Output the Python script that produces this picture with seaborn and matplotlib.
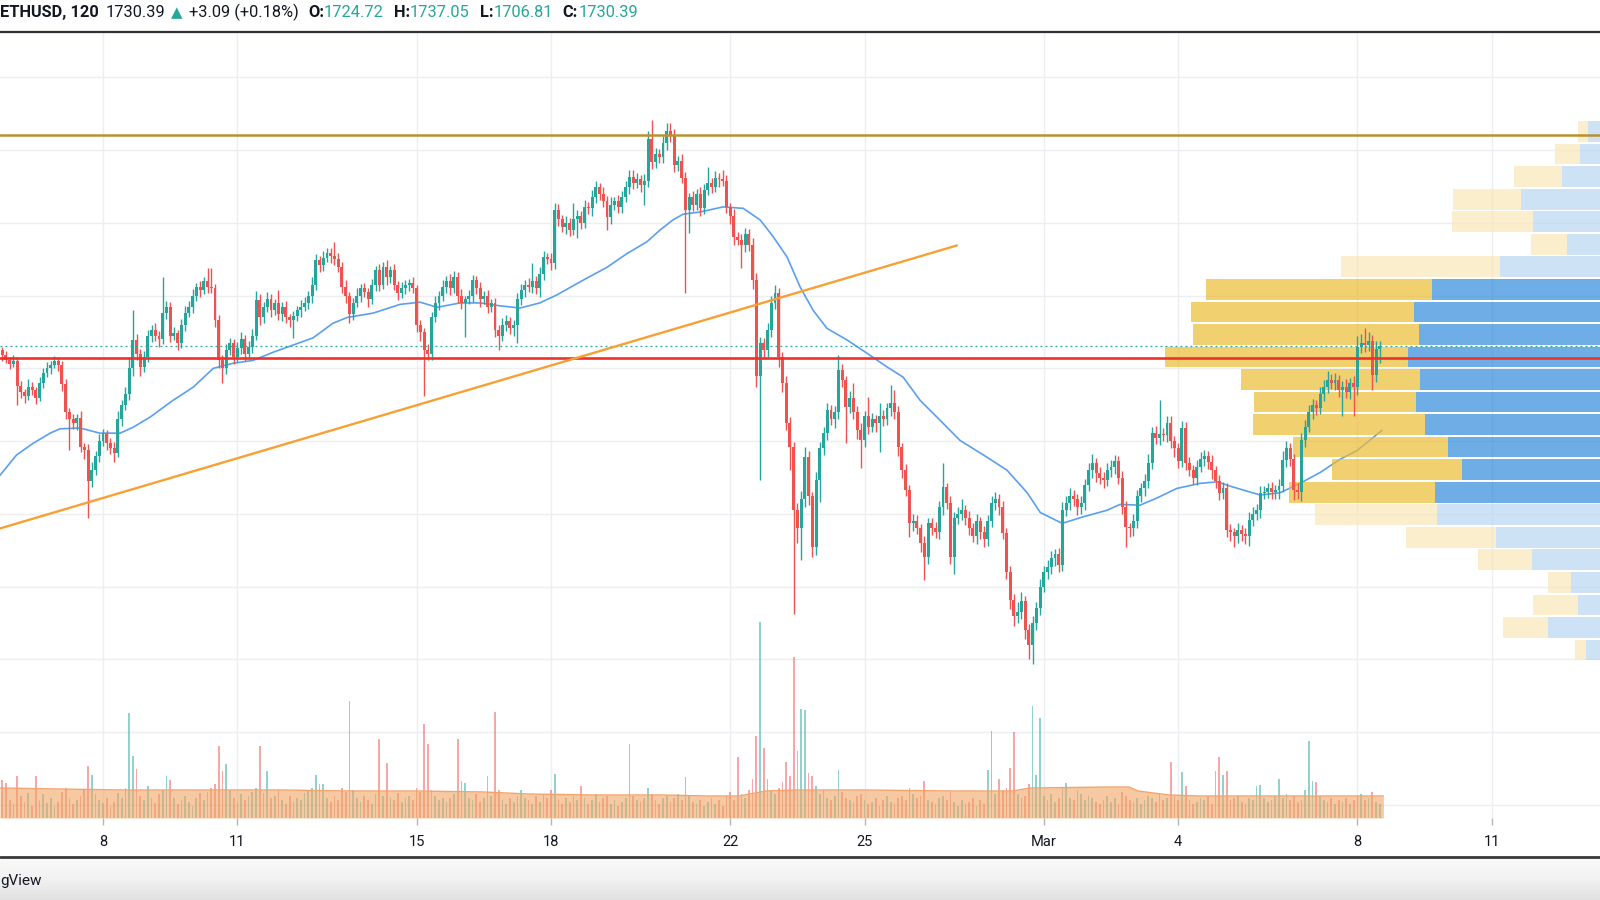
import numpy as np
import pandas as pd
import matplotlib
matplotlib.use("Agg")
import matplotlib.pyplot as plt
import seaborn as sns
from matplotlib.lines import Line2D

# ---------------- header data ----------------
symbol_txt = "ETHUSD, 120"
last_txt = "1730.39"
change_txt = "+3.09 (+0.18%)"
ohlc_labels = ["O:", "H:", "L:", "C:"]
ohlc_values = ["1724.72", "1737.05", "1706.81", "1730.39"]
footer_txt = "gView"

# ---------------- candle data (2h bars, day numbers: Feb d = d, Mar d = 28 + d) ----------------
start_day = 5.6667          # Feb 5, 16:00
bars_per_day = 12
first_open = 1730

close = [
    1725, 1718, 1712, 1706, 1710, 1676, 1668, 1662, 1675, 1670,
    1660, 1680, 1694, 1700, 1705, 1710, 1704, 1678, 1640, 1630,
    1625, 1632, 1592, 1588, 1545, 1560, 1580, 1600, 1610, 1598,
    1590, 1584, 1630, 1650, 1665, 1700, 1739, 1720, 1702, 1715,
    1745, 1753, 1745, 1740, 1776, 1785, 1745, 1748, 1735, 1760,
    1776, 1785, 1800, 1812, 1808, 1820, 1812, 1810, 1766, 1712,
    1700, 1725, 1735, 1715, 1728, 1740, 1720, 1730, 1745, 1794,
    1770, 1785, 1795, 1780, 1790, 1775, 1785, 1770, 1766, 1772,
    1780, 1785, 1790, 1800, 1815, 1849, 1842, 1852, 1858, 1855,
    1850, 1840, 1812, 1800, 1775, 1790, 1800, 1810, 1805, 1795,
    1815, 1835, 1815, 1839, 1825, 1835, 1815, 1803, 1810, 1815,
    1817, 1810, 1760, 1750, 1725, 1720, 1770, 1790, 1800, 1812,
    1820, 1810, 1826, 1800, 1790, 1795, 1800, 1821, 1810, 1795,
    1800, 1785, 1790, 1753, 1745, 1760, 1765, 1755, 1760, 1795,
    1808, 1815, 1812, 1820, 1810, 1830, 1853, 1850, 1845, 1918,
    1905, 1895, 1900, 1890, 1905, 1910, 1900, 1922, 1920, 1935,
    1949, 1940, 1930, 1908, 1925, 1930, 1922, 1935, 1950, 1963,
    1955, 1960, 1952, 1958, 2016, 1984, 1995, 1990, 2010, 2027,
    2020, 1980, 1985, 1962, 1918, 1935, 1925, 1940, 1920, 1945,
    1955, 1950, 1962, 1960, 1958, 1922, 1910, 1880, 1877, 1870,
    1885, 1870, 1821, 1690, 1735, 1725, 1753, 1790, 1803, 1716,
    1680, 1625, 1592, 1505, 1480, 1520, 1578, 1524, 1455, 1547,
    1590, 1611, 1643, 1630, 1640, 1698, 1684, 1647, 1660, 1640,
    1615, 1601, 1635, 1620, 1630, 1625, 1635, 1630, 1645, 1652,
    1640, 1592, 1560, 1533, 1487, 1490, 1480, 1460, 1441, 1487,
    1480, 1475, 1510, 1537, 1515, 1441, 1495, 1500, 1505, 1495,
    1480, 1470, 1490, 1475, 1465, 1490, 1515, 1521, 1510, 1474,
    1420, 1381, 1360, 1365, 1380, 1340, 1320, 1350, 1370, 1400,
    1420, 1427, 1440, 1445, 1430, 1505, 1515, 1525, 1520, 1510,
    1515, 1540, 1560, 1570, 1556, 1550, 1546, 1560, 1565, 1573,
    1550, 1510, 1482, 1480, 1490, 1524, 1535, 1545, 1570, 1611,
    1605, 1610, 1608, 1625, 1600, 1590, 1573, 1618, 1570, 1560,
    1550, 1565, 1575, 1580, 1572, 1560, 1545, 1529, 1535, 1478,
    1475, 1470, 1478, 1472, 1470, 1492, 1500, 1505, 1529, 1530,
    1535, 1530, 1533, 1538, 1574, 1590, 1575, 1533, 1530, 1601,
    1620, 1640, 1650, 1645, 1665, 1675, 1684, 1680, 1684, 1670,
    1675, 1668, 1680, 1675, 1730, 1735, 1732, 1738, 1691, 1727, 1730.39,
]

upper_wick = [
    8, 5, 6, 4, 9, 5, 7, 4, 10, 6,
    5, 8, 6, 9, 5, 7, 4, 6, 8, 5,
    7, 5, 9, 6, 8, 12, 6, 10, 7, 5,
    6, 9, 12, 7, 10, 15, 41, 8, 6, 9,
    8, 6, 10, 7, 49, 8, 6, 9, 5, 8,
    10, 7, 9, 6, 8, 5, 18, 26, 6, 8,
    6, 9, 7, 5, 8, 10, 6, 7, 9, 12,
    8, 6, 10, 7, 5, 18, 6, 8, 5, 7,
    6, 9, 8, 7, 10, 8, 6, 9, 7, 8,
    19, 8, 6, 9, 5, 7, 10, 6, 8, 5,
    8, 6, 9, 7, 10, 6, 8, 5, 9, 7,
    6, 8, 5, 7, 6, 9, 8, 10, 6, 9,
    7, 10, 8, 6, 9, 5, 8, 7, 6, 9,
    6, 8, 5, 7, 6, 9, 8, 6, 7, 9,
    8, 6, 9, 25, 7, 10, 8, 6, 9, 10,
    8, 6, 9, 7, 23, 8, 6, 9, 7, 10,
    8, 6, 9, 7, 10, 6, 8, 9, 7, 10,
    10, 8, 6, 9, 10, 25, 8, 6, 10, 11,
    11, 9, 7, 10, 8, 6, 9, 7, 10, 8,
    22, 7, 9, 6, 13, 8, 6, 9, 7, 8,
    8, 6, 9, 10, 8, 7, 10, 9, 12, 8,
    6, 9, 8, 7, 10, 12, 14, 8, 6, 10,
    9, 8, 10, 7, 9, 20, 8, 6, 9, 20,
    8, 10, 7, 26, 9, 6, 17, 8, 7, 25,
    18, 8, 6, 9, 7, 10, 8, 6, 9, 8,
    7, 9, 8, 33, 6, 10, 8, 9, 16, 7,
    9, 8, 10, 6, 9, 8, 10, 9, 7, 8,
    6, 8, 9, 14, 12, 7, 8, 10, 9, 11,
    8, 10, 9, 7, 8, 12, 9, 10, 8, 7,
    9, 8, 10, 12, 7, 9, 8, 10, 9, 8,
    7, 9, 8, 6, 10, 9, 8, 10, 12, 9,
    10, 47, 8, 10, 9, 7, 8, 10, 9, 8,
    7, 9, 10, 8, 7, 9, 6, 8, 9, 7,
    8, 6, 9, 7, 8, 10, 9, 8, 10, 9,
    8, 9, 7, 10, 12, 10, 8, 7, 9, 10,
    9, 10, 8, 7, 10, 9, 12, 8, 10, 7,
    8, 10, 7, 9, 14, 12, 20, 12, 8, 10, 7,
]

lower_wick = [
    6, 8, 5, 7, 4, 26, 8, 10, 6, 7,
    9, 5, 7, 6, 8, 5, 7, 9, 10, 42,
    8, 10, 7, 12, 51, 8, 6, 9, 7, 10,
    8, 12, 6, 9, 7, 8, 10, 9, 12, 7,
    6, 9, 8, 10, 7, 8, 9, 6, 10, 7,
    8, 6, 9, 7, 10, 6, 8, 7, 9, 12,
    20, 8, 7, 9, 6, 8, 10, 7, 9, 6,
    10, 8, 7, 9, 6, 8, 10, 7, 9, 24,
    7, 9, 6, 8, 10, 7, 9, 8, 6, 10,
    8, 7, 9, 10, 12, 8, 6, 9, 7, 10,
    7, 9, 8, 6, 10, 8, 7, 9, 6, 8,
    9, 7, 10, 12, 63, 9, 8, 6, 10, 7,
    8, 9, 6, 10, 8, 47, 7, 9, 8, 10,
    7, 9, 8, 10, 20, 7, 9, 8, 10, 25,
    8, 10, 7, 9, 8, 12, 9, 7, 10, 8,
    9, 7, 10, 8, 6, 26, 9, 7, 8, 10,
    7, 9, 8, 18, 10, 7, 9, 8, 6, 10,
    8, 7, 9, 27, 8, 10, 9, 7, 8, 10,
    9, 10, 8, 7, 115, 32, 9, 7, 10, 8,
    7, 9, 8, 10, 7, 9, 12, 10, 8, 32,
    10, 8, 12, 15, 143, 12, 9, 10, 8, 14,
    12, 10, 32, 142, 20, 43, 10, 12, 14, 12,
    30, 9, 10, 8, 12, 10, 9, 50, 8, 10,
    12, 38, 9, 10, 8, 12, 40, 9, 8, 10,
    9, 12, 10, 8, 19, 10, 8, 12, 32, 10,
    9, 8, 10, 12, 8, 10, 23, 9, 8, 10,
    9, 8, 12, 10, 10, 9, 8, 10, 12, 9,
    10, 12, 14, 10, 9, 12, 20, 27, 10, 9,
    8, 10, 9, 12, 10, 9, 8, 10, 9, 11,
    10, 9, 8, 10, 12, 9, 10, 8, 9, 10,
    9, 10, 27, 12, 10, 9, 8, 10, 9, 8,
    9, 10, 8, 9, 10, 12, 10, 9, 10, 8,
    9, 10, 8, 9, 10, 12, 9, 10, 8, 10,
    12, 15, 10, 9, 12, 14, 9, 8, 10, 9,
    8, 10, 9, 12, 8, 10, 9, 14, 10, 12,
    9, 8, 10, 9, 8, 10, 9, 8, 10, 9,
    35, 9, 10, 40, 12, 9, 10, 8, 21, 10, 20,
]

volume = [
    20, 38, 35, 18, 14, 42, 22, 16, 25, 12,
    42, 18, 24, 15, 20, 12, 16, 26, 30, 20,
    14, 18, 22, 28, 52, 43, 24, 18, 15, 20,
    12, 16, 25, 20, 30, 105, 62, 49, 22, 18,
    32, 20, 15, 24, 28, 42, 38, 20, 14, 18,
    22, 16, 12, 20, 25, 18, 26, 30, 34, 72,
    47, 54, 28, 20, 16, 24, 18, 22, 26, 30,
    72, 25, 47, 20, 22, 28, 18, 14, 22, 16,
    20, 18, 25, 28, 30, 43, 34, 34, 20, 16,
    22, 18, 30, 26, 117, 28, 20, 16, 22, 18,
    14, 24, 79, 22, 55, 20, 18, 25, 16, 20,
    22, 18, 30, 26, 94, 74, 28, 22, 18, 20,
    16, 20, 24, 79, 37, 35, 20, 18, 24, 16,
    20, 42, 22, 106, 28, 18, 14, 20, 16, 22,
    28, 20, 18, 14, 22, 16, 24, 20, 28, 44,
    18, 14, 20, 16, 22, 18, 32, 20, 14, 18,
    24, 16, 20, 22, 14, 18, 12, 16, 20, 74,
    22, 18, 16, 20, 30, 24, 18, 14, 20, 22,
    16, 20, 24, 18, 41, 22, 16, 14, 18, 12,
    16, 20, 14, 18, 12, 22, 26, 18, 61, 24,
    20, 28, 39, 82, 196, 70, 39, 28, 24, 30,
    36, 56, 42, 161, 67, 109, 108, 45, 42, 32,
    24, 28, 20, 18, 22, 48, 26, 20, 18, 16,
    22, 24, 18, 14, 16, 20, 12, 18, 22, 16,
    14, 20, 22, 18, 30, 24, 20, 22, 37, 18,
    16, 14, 20, 22, 18, 26, 16, 12, 18, 14,
    16, 20, 12, 18, 14, 48, 87, 24, 39, 28,
    30, 50, 86, 24, 20, 22, 34, 112, 43, 100,
    22, 18, 24, 16, 20, 30, 35, 20, 18, 28,
    24, 18, 22, 20, 16, 14, 18, 22, 16, 20,
    14, 26, 22, 18, 16, 20, 14, 18, 22, 20,
    16, 24, 18, 20, 56, 22, 18, 46, 32, 18,
    14, 16, 20, 18, 22, 14, 47, 61, 43, 47,
    18, 20, 22, 16, 14, 20, 18, 32, 33, 20,
    16, 18, 22, 39, 20, 24, 18, 22, 16, 18,
    28, 77, 37, 36, 22, 18, 16, 20, 14, 18,
    16, 20, 14, 18, 22, 24, 18, 20, 26, 16, 14,
]

# 50-bar price moving average (day, price)
ma_days = [5.70, 6.07, 6.44, 6.82, 7.04, 7.49, 7.93, 8.38, 8.67, 9.05, 9.56, 10.01,
           10.46, 10.90, 11.35, 11.79, 12.24, 12.69, 13.13, 13.45, 13.74, 14.03,
           14.63, 15.08, 15.46, 15.97, 16.42, 16.86, 17.31, 17.75, 18.13, 18.65,
           19.25, 19.70, 20.14, 20.43, 20.72, 20.95, 21.33, 21.84, 22.29, 22.67,
           22.96, 23.27, 23.56, 23.85, 24.16, 24.61, 25.05, 25.50, 25.86, 26.24,
           26.68, 27.13, 27.73, 28.18, 28.63, 28.92, 29.41, 29.88, 30.41, 30.70,
           31.15, 31.53, 31.97, 32.49, 32.87, 33.22, 33.83, 34.27, 34.72, 35.17,
           35.61, 35.99, 36.55]
ma_vals = [1553, 1581, 1597, 1611, 1617, 1618, 1611, 1611, 1619, 1633, 1656, 1674,
           1700, 1707, 1711, 1722, 1732, 1742, 1762, 1770, 1773, 1776,
           1788, 1791, 1784, 1790, 1790, 1786, 1783, 1790, 1801, 1819,
           1839, 1858, 1874, 1890, 1904, 1912, 1915, 1922, 1920, 1904,
           1881, 1853, 1812, 1780, 1755, 1739, 1721, 1702, 1688, 1656,
           1629, 1601, 1578, 1560, 1529, 1502, 1487, 1496, 1505, 1513,
           1512, 1522, 1535, 1542, 1544, 1537, 1526, 1529, 1542, 1557,
           1575, 1587, 1615]

# volume moving average (day, volume units)
vma_days = [5.70, 7.0, 8.5, 10.0, 12.0, 13.5, 15.0, 16.5, 17.5, 19.0, 20.5, 21.5,
            22.2, 22.8, 23.5, 25.0, 27.0, 28.3, 28.7, 30.5, 30.9, 31.1, 31.8, 32.5, 36.58]
vma_vals = [30, 29, 28, 28, 28, 27, 27, 26, 24, 23, 23, 22,
            22, 27, 28, 28, 27, 27, 30, 31, 31, 27, 23, 22, 22]

# horizontal levels and trend line
resistance_level = 2021.2
support_level = 1714.0
trend_days = [5.70, 27.06]
trend_prices = [1480, 1869]

# volume profile (24 rows, listed top -> bottom)
profile_high = 2041.0
profile_low = 1297.5
profile_up = [52, 60, 78, 119, 107, 73, 140, 208, 226, 221, 232, 220,
              224, 215, 192, 178, 205, 203, 144, 108, 69, 62, 92, 54]
profile_down = [10, 25, 48, 68, 81, 36, 159, 226, 223, 226, 243, 179,
                162, 172, 155, 130, 146, 122, 90, 54, 23, 45, 45, 11]
value_area = [False] * 7 + [True] * 10 + [False] * 7

tick_days = [8, 11, 15, 18, 22, 25, 29, 32, 36, 39]
tick_labels = ["8", "11", "15", "18", "22", "25", "Mar", "4", "8", "11"]

n = len(close)
assert len(upper_wick) == n and len(lower_wick) == n and len(volume) == n

df = pd.DataFrame({"close": close, "uw": upper_wick, "lw": lower_wick, "vol": volume})
df["day"] = start_day + np.arange(n) / bars_per_day
df["open"] = [first_open] + close[:-1]
df["top"] = df[["open", "close"]].max(axis=1)
df["bot"] = df[["open", "close"]].min(axis=1)
df["high"] = df["top"] + df["uw"]
df["low"] = df["bot"] - df["lw"]
df["up"] = df["close"] >= df["open"]

# ---------------- styling ----------------
sns.set_theme(style="white")
plt.rcParams["font.family"] = ["Roboto", "DejaVu Sans"]

UP = "#26a69a"
DOWN = "#ef5350"
TXT = "#131722"

W, H = 1600, 900
fig = plt.figure(figsize=(16, 9), dpi=100)
fig.patch.set_facecolor("white")


def fx(px):
    return px / W


def fy(py):
    return 1 - py / H


PANE_TOP, PANE_BOT = 32, 818
pane = [0, fy(PANE_BOT), 1, (PANE_BOT - PANE_TOP) / H]
XLIM = (5.7009, 41.4152)
YLIM = (1082.0, 2162.4)

# base axes: grid + moving average
ax_base = fig.add_axes(pane, zorder=0)
ax_base.set_xlim(*XLIM)
ax_base.set_ylim(*YLIM)
ax_base.set_facecolor("white")
ax_base.set_xticks(tick_days)
ax_base.set_xticklabels(tick_labels)
ax_base.set_yticks(np.arange(1100, 2200, 100))
ax_base.set_yticklabels([])
ax_base.grid(True, color="#eceef2", lw=1.0)
ax_base.tick_params(axis="x", length=5, width=1, color="#b2b5be", pad=7,
                    labelsize=10.5, labelcolor=TXT, bottom=True)
ax_base.tick_params(axis="y", length=0, left=False)
for s in ax_base.spines.values():
    s.set_visible(False)
sns.lineplot(x=ma_days, y=ma_vals, ax=ax_base, color="#5aa0f0", lw=1.2,
             legend=False, sort=False)
ax_base.set_xlabel("")
ax_base.set_ylabel("")

# volume axes
ax_vol = fig.add_axes(pane, zorder=1)
ax_vol.set_facecolor("none")
ax_vol.set_xlim(*XLIM)
ax_vol.set_ylim(0, PANE_BOT - PANE_TOP)
vol_colors = [UP if u else DOWN for u in df["up"]]
ax_vol.bar(df["day"], df["vol"], width=0.45 / bars_per_day, color=vol_colors,
           alpha=0.5, lw=0)
ax_vol.fill_between(vma_days, vma_vals, 0, color="#f0a564", alpha=0.6, lw=0)
sns.lineplot(x=vma_days, y=vma_vals, ax=ax_vol, color="#f3a36c", lw=1.0,
             legend=False, sort=False)
ax_vol.axis("off")

# volume profile axes (anchored to the right edge of the original, wider pane)
R_PX = 1640
ax_prof = fig.add_axes([0, fy(PANE_BOT), R_PX / W, (PANE_BOT - PANE_TOP) / H], zorder=2)
ax_prof.set_facecolor("none")
ax_prof.set_xlim(R_PX, 0)
ax_prof.set_ylim(*YLIM)
rows = len(profile_up)
step = (profile_high - profile_low) / rows
centers = profile_high - step * (np.arange(rows) + 0.5)
for c, u, d, va in zip(centers, profile_up, profile_down, value_area):
    if va:
        cu, cd = (0.19, 0.545, 0.86, 0.7), (0.925, 0.737, 0.2, 0.7)
    else:
        cu, cd = (0.72, 0.84, 0.945, 0.7), (0.976, 0.906, 0.72, 0.7)
    ax_prof.barh(c, u, left=0, height=step * 0.92, color=cu, lw=0)
    ax_prof.barh(c, d, left=u, height=step * 0.92, color=cd, lw=0)
ax_prof.axis("off")

# main axes: candles, levels, trend line
ax = fig.add_axes(pane, zorder=3)
ax.set_facecolor("none")
ax.set_xlim(*XLIM)
ax.set_ylim(*YLIM)
cols = np.where(df["up"], UP, DOWN)
ax.vlines(df["day"], df["low"], df["high"], colors=cols, lw=1.0)
body_h = np.maximum(df["top"] - df["bot"], 1.2)
ax.bar(df["day"], body_h, bottom=df["bot"], width=0.8 / bars_per_day,
       color=cols, lw=0)
ax.axhline(resistance_level, color="#b8922e", lw=1.8)
ax.axhline(support_level, color="#f0312b", lw=1.9)
ax.axhline(close[-1], color=UP, lw=0.9, ls=(0, (1.5, 2.5)))
sns.lineplot(x=trend_days, y=trend_prices, ax=ax, color="#f7a035", lw=1.7,
             legend=False)
ax.axis("off")

# ---------------- header ----------------
hy = fy(12.5)
fs = 11.8
fam = ["Roboto", "DejaVu Sans"]
fig.text(fx(0), hy, symbol_txt, fontsize=fs, weight="bold", color=TXT, va="center", family=fam)
fig.text(fx(106), hy, last_txt, fontsize=fs, color=TXT, va="center", family=fam)
fig.text(fx(171), hy, "\u25B2", fontsize=fs - 1, color=UP, va="center", family=["DejaVu Sans"])
fig.text(fx(189), hy, change_txt, fontsize=fs, color=TXT, va="center", family=fam)
for lab, val, xl, xv in zip(ohlc_labels, ohlc_values, [308, 394, 480, 562], [324, 410, 494, 579]):
    fig.text(fx(xl), hy, lab, fontsize=fs, weight="bold", color=TXT, va="center", family=fam)
    fig.text(fx(xv), hy, val, fontsize=fs, color=UP, va="center", family=fam)

fig.add_artist(Line2D([0, 1], [fy(32), fy(32)], transform=fig.transFigure,
                      color="#2f3136", lw=1.6))

# ---------------- footer ----------------
ax_f = fig.add_axes([0, 0, 1, 42 / H], zorder=5)
grad = np.linspace(0, 1, 50)[:, None] * np.ones((1, 400))
ax_f.imshow(grad, aspect="auto", cmap=matplotlib.colors.LinearSegmentedColormap.from_list(
    "f", ["#fafafa", "#f1f1f1", "#e2e2e2"]), extent=(0, 1, 0, 1))
ax_f.set_xlim(0, 1)
ax_f.set_ylim(0, 1)
ax_f.axis("off")
fig.add_artist(Line2D([0, 1], [fy(857), fy(857)], transform=fig.transFigure,
                      color="#3a3a3a", lw=2.0, zorder=6))
fig.text(fx(0), fy(881), footer_txt, fontsize=11, color=TXT, va="center", family=fam, zorder=7)

fig.savefig("out.png", dpi=100)
